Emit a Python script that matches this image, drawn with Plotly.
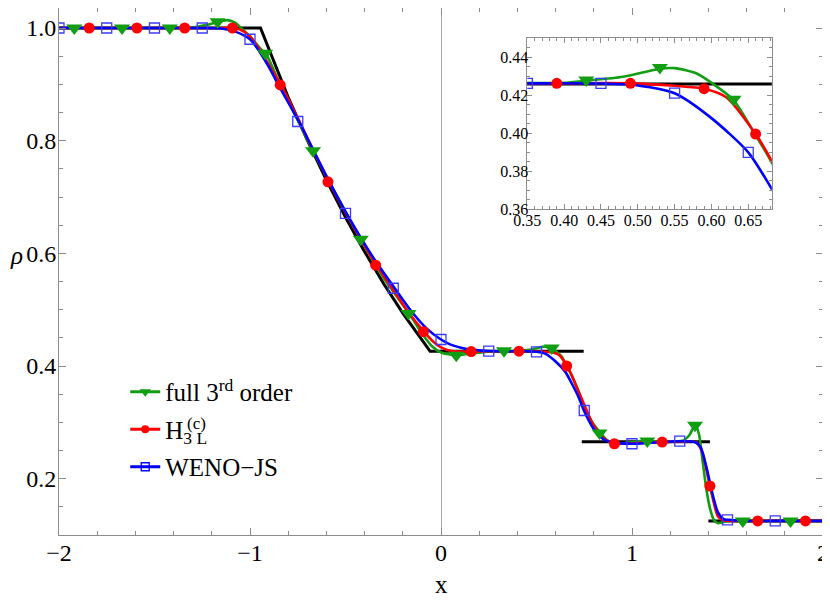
import plotly.graph_objects as go

# exact (Riemann) solution, separate pieces split by None
exact_x = [-2.0, -0.945, -0.8, -0.7, -0.6, -0.5, -0.4, -0.3, -0.2, -0.1, -0.057, 0.747,
           None, 0.737, 1.408, None, 1.400, 2.0]
exact_y = [1.0, 1.0, 0.877, 0.801, 0.730, 0.664, 0.603, 0.546, 0.494, 0.446, 0.426, 0.426,
           None, 0.2656, 0.2656, None, 0.125, 0.125]

# full 3rd order
full_x = [-2.0, -1.4, -1.3, -1.22, -1.17, -1.12, -1.08, -1.04, -1.0, -0.95, -0.913, -0.85, -0.8,
          -0.67, -0.55, -0.42, -0.3, -0.167, -0.1, -0.05, 0.0, 0.08, 0.15, 0.25, 0.33, 0.40, 0.43,
          0.48, 0.53, 0.55, 0.58, 0.60, 0.63, 0.66, 0.68, 0.72, 0.76, 0.80, 0.835, 0.87, 0.91, 0.96,
          1.0, 1.08, 1.15, 1.22, 1.27, 1.30, 1.33, 1.35, 1.37, 1.39, 1.41, 1.43, 1.45, 1.47, 1.5,
          1.58, 1.83, 2.0]
full_y = [1.0, 1.0, 1.001, 1.006, 1.011, 1.014, 1.01, 0.998, 0.985, 0.965, 0.952, 0.905, 0.870,
          0.782, 0.705, 0.625, 0.556, 0.493, 0.458, 0.436, 0.424, 0.419, 0.422, 0.4255, 0.4265, 0.4266, 0.4277,
          0.4298, 0.4340, 0.4343, 0.4315, 0.4266, 0.4175, 0.399, 0.386, 0.355, 0.318, 0.296, 0.281, 0.268,
          0.262, 0.263, 0.265, 0.267, 0.266, 0.266, 0.268, 0.277, 0.295, 0.28, 0.23, 0.18, 0.145,
          0.126, 0.121, 0.122, 0.125, 0.125, 0.125, 0.125]
full_mx = [-1.92, -1.67, -1.42, -1.17, -0.92, -0.67, -0.42, -0.17, 0.08, 0.33, 0.58, 0.83,
           1.08, 1.33, 1.58, 1.83]
full_my = [1.0, 1.0, 1.0, 1.011, 0.955, 0.782, 0.625, 0.493, 0.419, 0.427, 0.432, 0.281,
           0.267, 0.295, 0.125, 0.125]

# H_3L^(c)
h3l_x = [-2.0, -1.2, -1.1, -1.05, -1.0, -0.95, -0.9, -0.838, -0.75, -0.587, -0.45, -0.338,
         -0.25, -0.17, -0.089, -0.04, 0.0, 0.05, 0.1, 0.162, 0.25, 0.39, 0.49, 0.55, 0.59, 0.62,
         0.66, 0.682, 0.72, 0.76, 0.80, 0.85, 0.913, 1.0, 1.16, 1.3, 1.34, 1.37, 1.39, 1.408,
         1.43, 1.45, 1.48, 1.55, 1.66, 1.91, 2.0]
h3l_y = [1.0, 1.0, 1.0, 0.997, 0.985, 0.962, 0.934, 0.899, 0.84, 0.727, 0.643, 0.579,
         0.535, 0.495, 0.461, 0.443, 0.433, 0.427, 0.4255, 0.4258, 0.4262, 0.4263, 0.4263, 0.425,
         0.4235, 0.419, 0.3996, 0.3854, 0.355, 0.323, 0.294, 0.272, 0.262, 0.263, 0.265, 0.266,
         0.264, 0.245, 0.215, 0.187, 0.155, 0.133, 0.126, 0.125, 0.125, 0.125, 0.125]
h3l_mx = [-1.842, -1.592, -1.342, -1.092, -0.842, -0.592, -0.342, -0.092, 0.158, 0.408,
          0.658, 0.908, 1.158, 1.408, 1.658, 1.908]
h3l_my = [1.0, 1.0, 1.0, 1.0, 0.899, 0.727, 0.579, 0.461, 0.4256, 0.4263, 0.400, 0.262,
          0.265, 0.187, 0.125, 0.125]

# WENO-JS
weno_x = [-2.0, -1.25, -1.15, -1.08, -1.0, -0.95, -0.9, -0.85, -0.744, -0.6, -0.495, -0.35,
          -0.242, -0.15, -0.07, 0.0, 0.05, 0.1, 0.15, 0.25, 0.35, 0.45, 0.5, 0.55, 0.6, 0.65,
          0.682, 0.72, 0.748, 0.8, 0.85, 0.9, 1.0, 1.25, 1.33, 1.36, 1.39, 1.42, 1.45, 1.48,
          1.5, 1.6, 1.75, 2.0]
weno_y = [1.0, 1.0, 0.999, 0.994, 0.98, 0.958, 0.93, 0.898, 0.834, 0.737, 0.671, 0.59,
          0.538, 0.495, 0.465, 0.447, 0.438, 0.433, 0.4295, 0.4265, 0.4263, 0.4262, 0.4252,
          0.4211, 0.408, 0.390, 0.3707, 0.345, 0.321, 0.288, 0.27, 0.264, 0.262, 0.2665, 0.265,
          0.255, 0.22, 0.175, 0.14, 0.128, 0.127, 0.125, 0.125, 0.125]
weno_mx = [-2.0, -1.75, -1.5, -1.25, -1.0, -0.75, -0.5, -0.25, 0.0, 0.25, 0.5, 0.75, 1.0,
           1.25, 1.5, 1.75]
weno_my = [1.0, 1.0, 1.0, 1.0, 0.98, 0.834, 0.671, 0.538, 0.447, 0.4263, 0.4252, 0.321,
           0.262, 0.2665, 0.127, 0.125]

# markers shown in the zoomed inset
ins_full_mx = [0.43, 0.53, 0.63]
ins_full_my = [0.4281, 0.4346, 0.4179]
ins_h3l_mx = [0.39, 0.49, 0.59, 0.66]
ins_h3l_my = [0.4263, 0.4263, 0.4235, 0.3996]
ins_weno_mx = [0.35, 0.45, 0.55, 0.65]
ins_weno_my = [0.4263, 0.4263, 0.4211, 0.390]

GREEN = "#129e12"
RED = "#ff0000"
BLUE = "#0000ff"
SERIF = "Liberation Serif"

fig = go.Figure()

series = [
    (full_x, full_y, full_mx, full_my, ins_full_mx, ins_full_my, GREEN,
     dict(symbol="triangle-down", size=14, color=GREEN)),
    (h3l_x, h3l_y, h3l_mx, h3l_my, ins_h3l_mx, ins_h3l_my, RED,
     dict(symbol="circle", size=11, color=RED)),
    (weno_x, weno_y, weno_mx, weno_my, ins_weno_mx, ins_weno_my, BLUE,
     dict(symbol="square-open", size=10, color="#3b3bff", line=dict(width=1.3))),
]

for ax, ay in [("x", "y"), ("x2", "y2")]:
    fig.add_trace(go.Scatter(x=exact_x, y=exact_y, mode="lines", xaxis=ax, yaxis=ay,
                             line=dict(color="black", width=3), showlegend=False,
                             connectgaps=False, hoverinfo="skip"))
    for lx, ly, mx, my, imx, imy, col, mk in series:
        fig.add_trace(go.Scatter(x=lx, y=ly, mode="lines", xaxis=ax, yaxis=ay,
                                 line=dict(color=col, width=2.6, shape="spline", smoothing=0.7),
                                 showlegend=False))
    for lx, ly, mx, my, imx, imy, col, mk in series:
        px, py = (mx, my) if ax == "x" else (imx, imy)
        fig.add_trace(go.Scatter(x=px, y=py, mode="markers", xaxis=ax, yaxis=ay,
                                 marker=mk, showlegend=False))

# legend entries
legend_names = ["full 3<sup>rd</sup> order", "H<sub>3 L</sub>", "WENO\u2212JS"]
legend_marks = [dict(symbol="triangle-down", size=10, color=GREEN),
                dict(symbol="circle", size=8, color=RED),
                dict(symbol="square-open", size=8, color=BLUE, line=dict(width=1.3))]
for i, (name, col, mk) in enumerate(zip(legend_names, [GREEN, RED, BLUE], legend_marks)):
    fig.add_trace(go.Scatter(x=[None], y=[None], mode="lines+markers", name=name,
                             line=dict(color=col, width=3), marker=mk, legendgroup=str(i)))

frame = "#8c8c8c"
axis_common = dict(showline=True, linecolor=frame, linewidth=1, mirror="ticks",
                   ticks="inside", tickcolor=frame, showgrid=False)
big = dict(family=SERIF, size=24, color="black")
small = dict(family=SERIF, size=16, color="black")

# page body adds an 8px offset, so the figure is 822x592 with the frame placed accordingly
fig.update_layout(
    width=822, height=592,
    margin=dict(l=51, r=7, t=0, b=65, autoexpand=False),
    plot_bgcolor="white", paper_bgcolor="white",
    xaxis=dict(range=[-2, 2], tickvals=[-2, -1, 0, 1, 2], ticklen=7, tickfont=big,
               ticklabelstandoff=-4,
               minor=dict(dtick=0.2, ticklen=4, ticks="inside", tickcolor=frame),
               zeroline=True, zerolinecolor="#a8a8a8", zerolinewidth=1, **axis_common),
    yaxis=dict(range=[0.1, 1.0355], tickvals=[0.2, 0.4, 0.6, 0.8, 1.0],
               ticktext=["0.2", "0.4", "0.6", "0.8", "1.0"], ticklen=7, tickfont=big,
               ticklabelstandoff=-3,
               minor=dict(dtick=0.05, ticklen=4, ticks="inside", tickcolor=frame),
               zeroline=False, **axis_common),
    xaxis2=dict(domain=[0.613, 0.933], anchor="y2", range=[0.35, 0.682],
                tickvals=[0.35, 0.40, 0.45, 0.50, 0.55, 0.60, 0.65],
                ticktext=["0.35", "0.40", "0.45", "0.50", "0.55", "0.60", "0.65"], ticklen=5,
                tickfont=small, ticklabelstandoff=-4,
                minor=dict(dtick=0.01, ticklen=3, ticks="inside", tickcolor=frame),
                zeroline=False, **axis_common),
    yaxis2=dict(domain=[0.618, 0.9425], anchor="x2", range=[0.36, 0.45],
                tickvals=[0.36, 0.38, 0.40, 0.42, 0.44],
                ticktext=["0.36", "0.38", "0.40", "0.42", "0.44"], ticklen=5,
                tickfont=small, ticklabelstandoff=-5,
                minor=dict(dtick=0.005, ticklen=3, ticks="inside", tickcolor=frame),
                zeroline=False, **axis_common),
    legend=dict(x=0.0867, y=0.315, xanchor="left", yanchor="top",
                font=dict(family=SERIF, size=25, color="black"),
                bgcolor="rgba(0,0,0,0)", tracegroupgap=2, itemwidth=30),
    showlegend=True,
)

fig.add_annotation(x=0.1806, y=0.2125, xref="paper", yref="paper", text="(c)",
                   xanchor="center", yanchor="middle", showarrow=False,
                   font=dict(family=SERIF, size=17, color="black"))
fig.add_annotation(x=-0.0668, y=0.53, xref="paper", yref="paper", text="<i>\u03c1</i>",
                   xanchor="left", yanchor="middle", showarrow=False,
                   font=dict(family=SERIF, size=25, color="black"))
fig.add_annotation(x=0.5, y=-0.093, xref="paper", yref="paper", text="x",
                   xanchor="center", yanchor="middle", showarrow=False,
                   font=dict(family=SERIF, size=25, color="black"))

fig.write_html("out.html")
